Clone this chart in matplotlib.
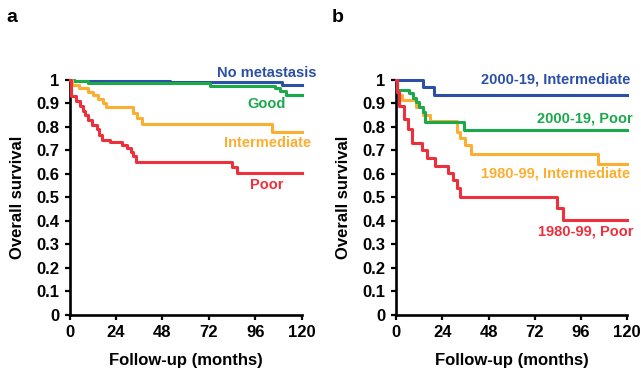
import matplotlib.pyplot as plt

plt.rcParams['font.family'] = ['Liberation Sans', 'DejaVu Sans']
plt.rcParams['font.weight'] = 'bold'

# Couleurs des courbes
BLEU = "#2b50a6"
VERT = "#1aa94b"
ORANGE = "#fbae30"
ROUGE = "#ee2f3c"

# Panneau a : survie selon le groupe pronostique
a_none_t = [0, 2, 52, 110, 120]
a_none_s = [1.0, 0.997, 0.99, 0.978, 0.978]

a_good_t = [0, 2, 9.5, 72.5, 106, 109, 112, 120]
a_good_s = [1.0, 0.995, 0.986, 0.974, 0.965, 0.955, 0.935, 0.935]

a_inter_t = [0, 1, 5, 9.5, 12, 14.5, 17, 19, 33, 35, 37.5, 104.5, 120]
a_inter_s = [1.0, 0.979, 0.965, 0.95, 0.936, 0.92, 0.901, 0.884, 0.86, 0.837, 0.813, 0.78, 0.78]

a_poor_t = [0, 0.5, 3.5, 5.5, 7, 8, 9.5, 11.5, 14, 15, 16.5, 21, 27, 29.5, 31.5, 33, 34.5, 84, 86.5, 120]
a_poor_s = [1.0, 0.93, 0.91, 0.89, 0.87, 0.85, 0.83, 0.81, 0.79, 0.765, 0.745, 0.735, 0.725,
            0.71, 0.695, 0.675, 0.652, 0.63, 0.605, 0.605]

# Panneau b : survie selon la periode et le groupe
b_int_new_t = [0, 14.2, 19.5, 120]
b_int_new_s = [1.0, 0.972, 0.938, 0.938]

b_poor_new_t = [0, 0.7, 6.6, 8.7, 10.4, 11.8, 13.8, 15.2, 35.5, 120]
b_poor_new_s = [1.0, 0.957, 0.943, 0.925, 0.908, 0.886, 0.865, 0.822, 0.787, 0.787]

b_int_old_t = [0, 0.7, 1.7, 3.3, 10.5, 13.8, 17.6, 31.5, 33.2, 35.8, 38.8, 105, 120]
b_int_old_s = [1.0, 0.957, 0.936, 0.915, 0.886, 0.851, 0.825, 0.78, 0.752, 0.723, 0.685, 0.64, 0.64]

b_poor_old_t = [0, 0.5, 1.7, 4, 6.4, 8.1, 13.7, 15.9, 20.3, 27.1, 29.7, 31.8, 33.2, 83.5, 86.5, 120]
b_poor_old_s = [1.0, 0.95, 0.89, 0.835, 0.79, 0.73, 0.702, 0.668, 0.635, 0.605, 0.574, 0.54,
                0.5, 0.453, 0.405, 0.405]

xticks = [0, 24, 48, 72, 96, 120]
yticks = [0, 0.1, 0.2, 0.3, 0.4, 0.5, 0.6, 0.7, 0.8, 0.9, 1]
yticklabels = ["0", "0.1", "0.2", "0.3", "0.4", "0.5", "0.6", "0.7", "0.8", "0.9", "1"]


def courbe(ax, t, s, couleur):
    ax.step(t, s, where="post", color=couleur, lw=2.2, clip_on=False, zorder=3)


def mise_en_forme(ax, lettre):
    ax.set_xlim(0, 120)
    ax.set_ylim(0, 1)
    ax.set_xticks(xticks)
    ax.set_yticks(yticks)
    ax.set_yticklabels(yticklabels)
    for cote in ["top", "right"]:
        ax.spines[cote].set_visible(False)
    for cote in ["left", "bottom"]:
        ax.spines[cote].set_linewidth(1.9)
    ax.tick_params(direction="out", length=3.5, width=1.6, labelsize=12, pad=4)
    ax.set_xlabel("Follow-up (months)", fontsize=12, fontweight="bold", labelpad=9)
    ax.set_ylabel("Overall survival", fontsize=12, fontweight="bold", labelpad=8)
    ax.text(-0.251, 1.268, lettre, transform=ax.transAxes, fontsize=14,
            fontweight="bold", va="center", ha="center")


fig = plt.figure(figsize=(6.41, 3.75), dpi=100)
ax1 = fig.add_axes([0.1087, 0.1608, 0.362, 0.6259])
ax2 = fig.add_axes([0.6178, 0.1608, 0.3608, 0.6259])

courbe(ax1, a_none_t, a_none_s, BLEU)
courbe(ax1, a_good_t, a_good_s, VERT)
courbe(ax1, a_inter_t, a_inter_s, ORANGE)
courbe(ax1, a_poor_t, a_poor_s, ROUGE)
mise_en_forme(ax1, "a")

ax1.text(127.4, 1.03, "No metastasis", color=BLEU, fontsize=10.5, ha="right", va="center", clip_on=False)
ax1.text(102, 0.898, "Good", color=VERT, fontsize=10.5, ha="center", va="center")
ax1.text(124.8, 0.733, "Intermediate", color=ORANGE, fontsize=10.5, ha="right", va="center", clip_on=False)
ax1.text(102, 0.553, "Poor", color=ROUGE, fontsize=10.5, ha="center", va="center")

courbe(ax2, b_int_new_t, b_int_new_s, BLEU)
courbe(ax2, b_int_old_t, b_int_old_s, ORANGE)
courbe(ax2, b_poor_new_t, b_poor_new_s, VERT)
courbe(ax2, b_poor_old_t, b_poor_old_s, ROUGE)
mise_en_forme(ax2, "b")

ax2.text(121.7, 1.0, "2000-19, Intermediate", color=BLEU, fontsize=10.5, ha="right", va="center", clip_on=False)
ax2.text(123, 0.834, "2000-19, Poor", color=VERT, fontsize=10.5, ha="right", va="center", clip_on=False)
ax2.text(121.7, 0.60, "1980-99, Intermediate", color=ORANGE, fontsize=10.5, ha="right", va="center", clip_on=False)
ax2.text(123, 0.354, "1980-99, Poor", color=ROUGE, fontsize=10.5, ha="right", va="center", clip_on=False)

fig.savefig("out.png", dpi=100)
